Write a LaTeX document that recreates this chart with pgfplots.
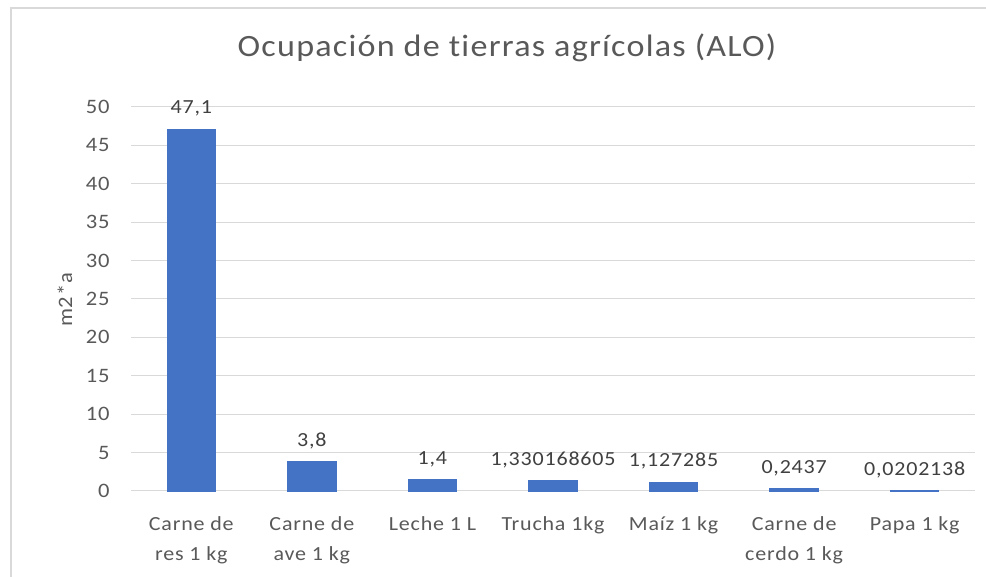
\documentclass[border=0pt]{standalone}
\usepackage{fontspec}
\setmainfont{Carlito}[FakeStretch=1.1, LetterSpace=4, Ligatures=NoCommon]
\usepackage{pgfplots}
\pgfplotsset{compat=1.18}
\definecolor{barblue}{HTML}{4472C4}
\definecolor{txt}{HTML}{595959}
\definecolor{lbl}{HTML}{404040}
\definecolor{gridc}{HTML}{D9D9D9}
\begin{document}
\begin{tikzpicture}[x=1pt,y=1pt]
\path[use as bounding box] (-131,-86) rectangle (855,491);
\draw[gridc, line width=1.5pt] (-120,-86) -- (-120,483) -- (855,483);
\begin{axis}[
  at={(0,0)}, anchor=south west,
  scale only axis, width=844pt, height=384pt,
  xmin=-0.5, xmax=6.5, ymin=0, ymax=50,
  ytick={0,5,...,50},
  xtick={0,...,6},
  xticklabels={{Carne de\\res 1 kg},{Carne de\\ave 1 kg},{Leche 1 L},{Trucha 1kg},{Maíz 1 kg},{Carne de\\cerdo 1 kg},{Papa 1 kg}},
  xticklabel style={align=center, font=\fontsize{20}{30}\selectfont, text=txt, anchor=north, yshift=-22pt},
  yticklabel style={font=\fontsize{20.5}{24}\selectfont, text=txt, xshift=-18pt},
  /pgf/number format/assume math mode=true,
  ymajorgrids, grid style={gridc, line width=1pt},
  axis line style={draw=none},
  major tick style={draw=none},
  nodes near coords,
  point meta=explicit symbolic,
  nodes near coords style={font=\fontsize{20}{24}\selectfont, text=lbl, anchor=south, yshift=9pt},
  clip=false,
]
\addplot[ybar, bar width=48pt, fill=barblue, draw=barblue, line width=1.5pt] table[meta=lab] {
x y lab
0 47.1 47,1
1 3.8 3,8
2 1.4 1,4
3 1.330168605 1,330168605
4 1.127285 1,127285
5 0.2437 0,2437
6 0.0202138 0,0202138
};
\end{axis}
\node[text=txt, rotate=90, font=\fontsize{20.5}{24}\selectfont] at (-66,191) {m2*a};
\node[text=txt, font=\fontsize{31}{36}\selectfont] at (376,443) {Ocupación de tierras agrícolas (ALO)};
\end{tikzpicture}
\end{document}
